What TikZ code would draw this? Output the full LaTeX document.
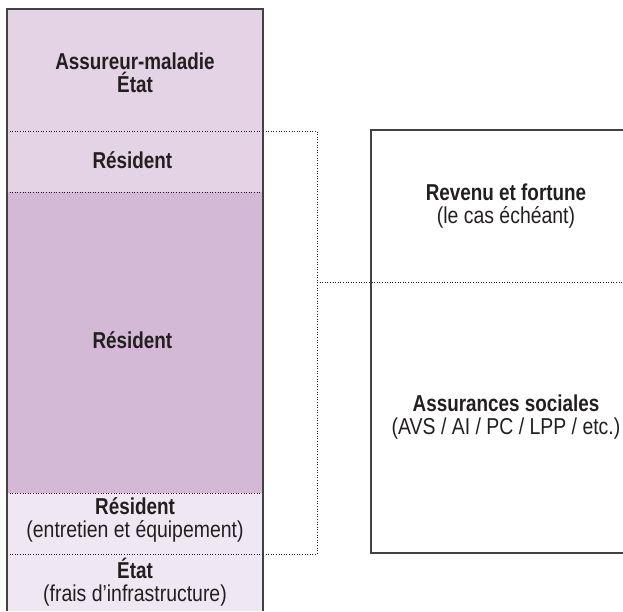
\documentclass[tikz,border=0pt]{standalone}
\usepackage{fontspec}
\setmainfont{Liberation Sans}[FakeStretch=0.845, BoldFeatures={FakeStretch=0.82}]

\definecolor{ink}{RGB}{35,31,32}
\definecolor{lilas}{RGB}{227,211,229}
\definecolor{mauve}{RGB}{211,185,213}
\definecolor{pale}{RGB}{239,231,241}

\tikzset{
  txt/.style={align=center, text=ink, inner sep=0pt, font=\fontsize{23}{23}\selectfont},
  sep/.style={ink, dotted, line width=0.6pt},
  frame/.style={ink!85, line width=1.1pt},
}

\begin{document}
\begin{tikzpicture}[x=1pt,y=-1pt]
  \useasboundingbox (0,0) rectangle (623,611);

  % payeurs
  \fill[lilas] (7,9) rectangle (263,192);
  \fill[mauve] (7,192) rectangle (263,493);
  \fill[pale] (7,493) rectangle (263,611);

  \draw[sep] (7,131) -- (263,131);
  \draw[sep] (7,192) -- (263,192);
  \draw[sep] (7,493) -- (263,493);
  \draw[sep] (7,554) -- (263,554);

  \draw[frame] (7,611) -- (7,9) -- (263,9) -- (263,611);

  \node[txt] (assureur) at (135,73) { \bfseries Assureur-maladie\\ \bfseries État };
  \node[txt] (resa) at (135,160) { \bfseries Résident };
  \node[txt] (resb) at (135,340) { \bfseries Résident };
  \node[txt] (resc) at (135,520) { {\bfseries Résident}\\(entretien et équipement) };
  \node[txt] (etat) at (135,582) { {\bfseries État}\\(frais d’infrastructure) };

  % sources
  \coordinate (brtop) at (317,131);
  \coordinate (brbot) at (317,554);
  \coordinate (brmid) at (317,282);
  \draw[sep] (263,131) -- (brtop) -- (brbot) -- (263,554);
  \draw[sep] (brmid) -- (623,282);

  \draw[frame] (623,130) -- (371,130) -- (371,553) -- (623,553);

  \node[txt] (revenu) at (506,206) { {\bfseries Revenu et fortune}\\(le cas échéant) };
  \node[txt] (social) at (506,417) { {\bfseries Assurances sociales}\\(AVS / AI / PC / LPP / etc.) };
\end{tikzpicture}
\end{document}
